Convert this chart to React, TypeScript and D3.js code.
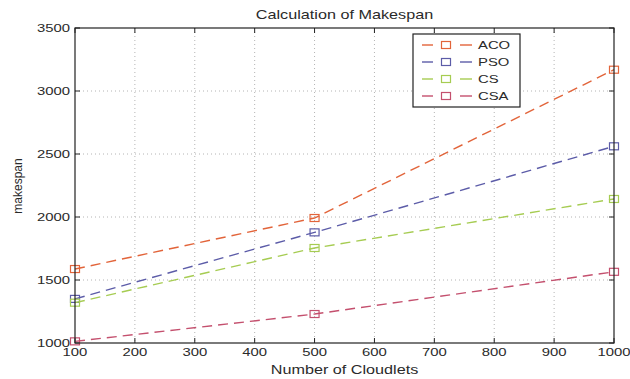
import * as d3 from 'd3'

const cloudlets = [100, 500, 1000]
const aco = [1587, 1992, 3169]
const pso = [1350, 1878, 2561]
const cs = [1320, 1754, 2143]
const csa = [1013, 1230, 1565]

const seriesNames = ['ACO', 'PSO', 'CS', 'CSA']
const seriesValues = [aco, pso, cs, csa]
const seriesColors = ['#e2643a', '#5c5ca8', '#a6cc52', '#c4506e']

const xTicks = [100, 200, 300, 400, 500, 600, 700, 800, 900, 1000]
const yTicks = [1000, 1500, 2000, 2500, 3000, 3500]

const font = '"Liberation Sans", Arial, sans-serif'
const stretch = 1.35

function T({ x, y, anchor = 'middle', size = 11, children }: any) {
  return (
    <text
      transform={`translate(${x},${y}) scale(${stretch},1)`}
      textAnchor={anchor}
      fontSize={size}
      fontFamily={font}
      fill="#2a2a2a"
    >
      {children}
    </text>
  )
}

export default function App() {
  const W = 630
  const H = 379
  const left = 75
  const right = 614
  const top = 28
  const bottom = 343

  const x = d3.scaleLinear().domain([100, 1000]).range([left, right])
  const y = d3.scaleLinear().domain([1000, 3500]).range([bottom, top])

  const line = d3
    .line<number>()
    .x((_, i) => x(cloudlets[i]))
    .y((d) => y(d))

  const tick = 5

  return (
    <svg
      width={W}
      height={H}
      style={{ position: 'absolute', left: 0, top: 0, background: '#fff' }}
    >
      <rect x={0} y={0} width={W} height={H} fill="#fff" />

      {/* grid */}
      {xTicks.slice(1, -1).map((t) => (
        <line key={'gx' + t} x1={x(t)} x2={x(t)} y1={top} y2={bottom}
          stroke="#b4b4b4" strokeWidth={1} strokeDasharray="1,3" />
      ))}
      {yTicks.slice(1, -1).map((t) => (
        <line key={'gy' + t} x1={left} x2={right} y1={y(t)} y2={y(t)}
          stroke="#b4b4b4" strokeWidth={1} strokeDasharray="1,3" />
      ))}

      {/* ticks, inside on all four sides */}
      {xTicks.map((t) => (
        <g key={'tx' + t} stroke="#222" strokeWidth={1}>
          <line x1={x(t)} x2={x(t)} y1={bottom} y2={bottom - tick} />
          <line x1={x(t)} x2={x(t)} y1={top} y2={top + tick} />
        </g>
      ))}
      {yTicks.map((t) => (
        <g key={'ty' + t} stroke="#222" strokeWidth={1}>
          <line x1={left} x2={left + tick} y1={y(t)} y2={y(t)} />
          <line x1={right} x2={right - tick} y1={y(t)} y2={y(t)} />
        </g>
      ))}

      {/* series */}
      {seriesValues.map((vals, s) => (
        <g key={seriesNames[s]}>
          <path d={line(vals) || ''} fill="none" stroke={seriesColors[s]}
            strokeWidth={1.4} strokeDasharray="10,6" />
          {vals.map((v, i) => (
            <rect key={i} x={x(cloudlets[i]) - 4.5} y={y(v) - 3.5} width={9} height={7}
              fill="none" stroke={seriesColors[s]} strokeWidth={1.2} />
          ))}
        </g>
      ))}

      {/* box */}
      <rect x={left} y={top} width={right - left} height={bottom - top}
        fill="none" stroke="#222" strokeWidth={1.2} />

      {/* tick labels */}
      {xTicks.map((t) => (
        <T key={'lx' + t} x={x(t)} y={356}>{t}</T>
      ))}
      {yTicks.map((t) => (
        <T key={'ly' + t} x={70} y={y(t) + 4} anchor="end">{t}</T>
      ))}

      {/* titles */}
      <T x={(left + right) / 2} y={19} size={12}>Calculation of Makespan</T>
      <T x={(left + right) / 2} y={374} size={12}>Number of Cloudlets</T>
      <text transform="translate(22,186) rotate(-90)" textAnchor="middle"
        fontSize={12} fontFamily={font} fill="#2a2a2a">makespan</text>

      {/* legend */}
      <g>
        <rect x={413} y={34} width={107} height={73} fill="#fff" stroke="#222" strokeWidth={1.2} />
        {seriesNames.map((n, i) => {
          const ly = 45 + i * 17
          return (
            <g key={'lg' + n}>
              <line x1={422} x2={433} y1={ly} y2={ly} stroke={seriesColors[i]} strokeWidth={1.4} />
              <rect x={441.5} y={ly - 3.5} width={9} height={7} fill="none"
                stroke={seriesColors[i]} strokeWidth={1.2} />
              <line x1={460} x2={472} y1={ly} y2={ly} stroke={seriesColors[i]} strokeWidth={1.4} />
              <T x={478} y={ly + 4} anchor="start">{n}</T>
            </g>
          )
        })}
      </g>
    </svg>
  )
}
